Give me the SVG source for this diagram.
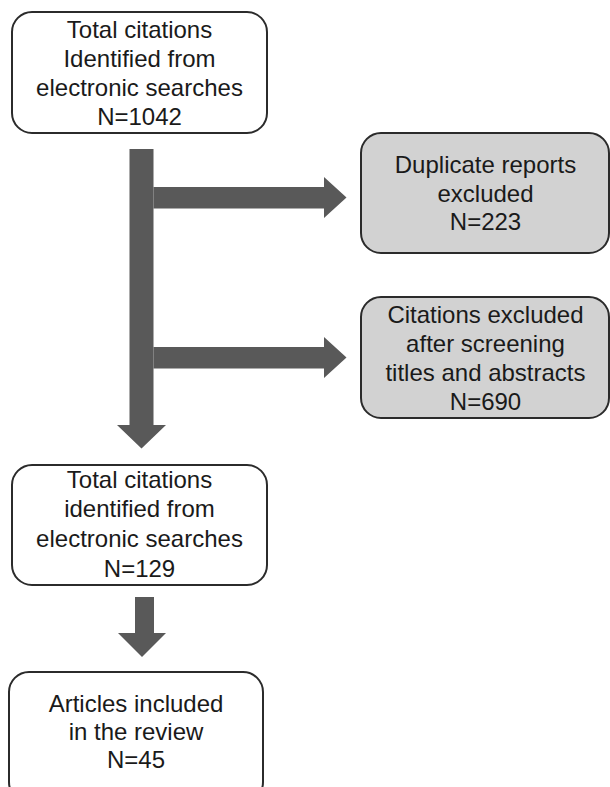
<svg xmlns="http://www.w3.org/2000/svg" width="610" height="787" viewBox="0 0 610 787">
<style>
.box{fill:#ffffff;stroke:#2b2b2b;stroke-width:2}
.gbox{fill:#d2d2d2;stroke:#2b2b2b;stroke-width:2}
.arr{fill:#595959}
text{font-family:"Liberation Sans",Arial,Helvetica,sans-serif;font-size:24px;fill:#1a1a1a;text-anchor:middle}
</style>
<rect width="610" height="787" fill="#ffffff"/>
<g id="connectors">
<polygon class="arr" points="129.5,149 153.5,149 153.5,425 166,425 141.5,448.5 117,425 129.5,425"/>
<polygon class="arr" points="153.5,187 324,187 324,177 346.5,197.5 324,218 324,208.5 153.5,208.5"/>
<polygon class="arr" points="153.5,347 324,347 324,337 346.5,357.5 324,378 324,368.5 153.5,368.5"/>
<polygon class="arr" points="135,597 154,597 154,633 166,633 142,657 118,633 135,633"/>
</g>
<g id="n1">
<rect class="box" x="12" y="12" width="255" height="121" rx="20"/>
<text x="139.5" y="37.5">Total citations</text>
<text x="139.5" y="66.5">Identified from</text>
<text x="139.5" y="95.5">electronic searches</text>
<text x="139.5" y="124.5">N=1042</text>
</g>
<g id="n2">
<rect class="gbox" x="361" y="133" width="248" height="120" rx="20"/>
<text x="485.5" y="172.5">Duplicate reports</text>
<text x="485.5" y="201.5">excluded</text>
<text x="485.5" y="230">N=223</text>
</g>
<g id="n3">
<rect class="gbox" x="361" y="297" width="248" height="121" rx="20"/>
<text x="485.5" y="323">Citations excluded</text>
<text x="485.5" y="352">after screening</text>
<text x="485.5" y="381">titles and abstracts</text>
<text x="485.5" y="410">N=690</text>
</g>
<g id="n4">
<rect class="box" x="12" y="465" width="255" height="120" rx="20"/>
<text x="139.5" y="488">Total citations</text>
<text x="139.5" y="517">identified from</text>
<text x="139.5" y="547">electronic searches</text>
<text x="139.5" y="577">N=129</text>
</g>
<g id="n5">
<rect class="box" x="9" y="672" width="254" height="130" rx="20"/>
<text x="136" y="712">Articles included</text>
<text x="136" y="740">in the review</text>
<text x="136" y="768">N=45</text>
</g>
</svg>
